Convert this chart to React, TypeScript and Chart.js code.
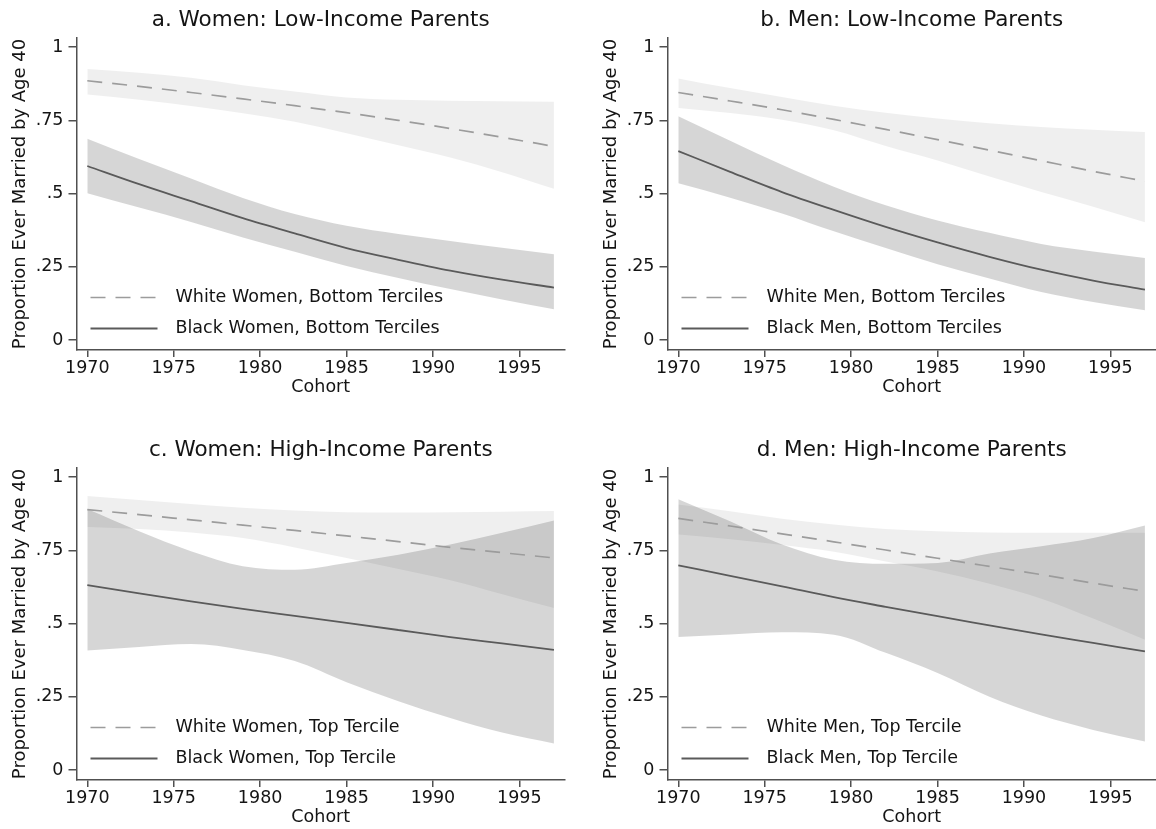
import React, { useEffect, useRef } from "react";
import { Chart, registerables } from "chart.js";

Chart.register(...registerables);

// Birth cohorts at which the fitted curves and their confidence bands are evaluated
const cohorts = [1970, 1973, 1976, 1979, 1982, 1985, 1988, 1991, 1994, 1997];

const xTicks = [1970, 1975, 1980, 1985, 1990, 1995];
const yTicks = [0, 0.25, 0.5, 0.75, 1];
const yTickLabels = ["0", ".25", ".5", ".75", "1"];

// a. Women, low-income parents
const womenLowWhite = [0.885, 0.866, 0.845, 0.823, 0.8, 0.776, 0.75, 0.722, 0.692, 0.661];
const womenLowWhiteHi = [0.925, 0.912, 0.895, 0.87, 0.848, 0.828, 0.82, 0.817, 0.815, 0.813];
const womenLowWhiteLo = [0.838, 0.82, 0.799, 0.774, 0.745, 0.706, 0.665, 0.623, 0.573, 0.516];
const womenLowBlack = [0.594, 0.532, 0.474, 0.416, 0.364, 0.314, 0.274, 0.237, 0.206, 0.179];
const womenLowBlackHi = [0.687, 0.618, 0.551, 0.485, 0.43, 0.39, 0.362, 0.338, 0.315, 0.293];
const womenLowBlackLo = [0.501, 0.452, 0.403, 0.35, 0.301, 0.253, 0.212, 0.174, 0.138, 0.105];

// b. Men, low-income parents
const menLowWhite = [0.845, 0.816, 0.786, 0.753, 0.719, 0.684, 0.648, 0.612, 0.576, 0.542];
const menLowWhiteHi = [0.893, 0.86, 0.83, 0.8, 0.776, 0.756, 0.74, 0.727, 0.718, 0.71];
const menLowWhiteLo = [0.792, 0.775, 0.752, 0.716, 0.662, 0.613, 0.558, 0.505, 0.455, 0.402];
const menLowBlack = [0.645, 0.574, 0.505, 0.444, 0.386, 0.333, 0.284, 0.24, 0.203, 0.172];
const menLowBlackHi = [0.764, 0.68, 0.598, 0.523, 0.46, 0.408, 0.366, 0.328, 0.302, 0.28];
const menLowBlackLo = [0.535, 0.486, 0.432, 0.371, 0.314, 0.259, 0.21, 0.164, 0.13, 0.102];

// c. Women, high-income parents
const womenHighWhite = [0.889, 0.872, 0.854, 0.836, 0.818, 0.799, 0.78, 0.76, 0.742, 0.724];
const womenHighWhiteHi = [0.935, 0.922, 0.908, 0.895, 0.886, 0.88, 0.879, 0.88, 0.882, 0.884];
const womenHighWhiteLo = [0.83, 0.823, 0.811, 0.792, 0.76, 0.724, 0.686, 0.648, 0.6, 0.553];
const womenHighBlack = [0.631, 0.603, 0.576, 0.55, 0.526, 0.502, 0.478, 0.454, 0.432, 0.41];
const womenHighBlackHi = [0.891, 0.815, 0.747, 0.696, 0.684, 0.707, 0.735, 0.77, 0.81, 0.852];
const womenHighBlackLo = [0.408, 0.42, 0.43, 0.41, 0.372, 0.3, 0.235, 0.178, 0.128, 0.091];

// d. Men, high-income parents
const menHighWhite = [0.859, 0.833, 0.806, 0.779, 0.751, 0.723, 0.695, 0.667, 0.638, 0.61];
const menHighWhiteHi = [0.906, 0.883, 0.858, 0.838, 0.823, 0.815, 0.811, 0.81, 0.81, 0.81];
const menHighWhiteLo = [0.804, 0.788, 0.768, 0.745, 0.712, 0.678, 0.636, 0.585, 0.517, 0.445];
const menHighBlack = [0.699, 0.663, 0.627, 0.59, 0.557, 0.525, 0.494, 0.463, 0.434, 0.405];
const menHighBlackHi = [0.924, 0.849, 0.77, 0.718, 0.704, 0.707, 0.739, 0.764, 0.792, 0.835];
const menHighBlackLo = [0.454, 0.463, 0.47, 0.462, 0.4, 0.331, 0.25, 0.186, 0.137, 0.097];

const panelTitles = [
  "a. Women: Low-Income Parents",
  "b. Men: Low-Income Parents",
  "c. Women: High-Income Parents",
  "d. Men: High-Income Parents",
];
const whiteLabels = [
  "White Women, Bottom Terciles",
  "White Men, Bottom Terciles",
  "White Women, Top Tercile",
  "White Men, Top Tercile",
];
const blackLabels = [
  "Black Women, Bottom Terciles",
  "Black Men, Bottom Terciles",
  "Black Women, Top Tercile",
  "Black Men, Top Tercile",
];

type PanelData = {
  title: string;
  whiteLabel: string;
  blackLabel: string;
  white: number[];
  whiteHi: number[];
  whiteLo: number[];
  black: number[];
  blackHi: number[];
  blackLo: number[];
};

const panels: PanelData[] = [
  [womenLowWhite, womenLowWhiteHi, womenLowWhiteLo, womenLowBlack, womenLowBlackHi, womenLowBlackLo],
  [menLowWhite, menLowWhiteHi, menLowWhiteLo, menLowBlack, menLowBlackHi, menLowBlackLo],
  [womenHighWhite, womenHighWhiteHi, womenHighWhiteLo, womenHighBlack, womenHighBlackHi, womenHighBlackLo],
  [menHighWhite, menHighWhiteHi, menHighWhiteLo, menHighBlack, menHighBlackHi, menHighBlackLo],
].map((s, i) => ({
  title: panelTitles[i],
  whiteLabel: whiteLabels[i],
  blackLabel: blackLabels[i],
  white: s[0],
  whiteHi: s[1],
  whiteLo: s[2],
  black: s[3],
  blackHi: s[4],
  blackLo: s[5],
}));

const FONT = "'DejaVu Sans', 'Noto Sans', sans-serif";
const TEXT = "#141414";
const AXIS = "#505050";
const WHITE_BAND = "rgba(0,0,0,0.062)";
const BLACK_BAND = "rgba(0,0,0,0.16)";
const WHITE_LINE = "#9c9c9c";
const BLACK_LINE = "#5a5a5a";
const PANEL_W = 591;
const PANEL_H = 430;

// Legend drawn inside the plot area, lower left, without a frame
const insideLegend = {
  id: "insideLegend",
  afterDatasetsDraw(chart: any) {
    const { ctx, chartArea } = chart;
    const rows = chart.data.datasets.filter((d: any) => d.inLegend);
    ctx.save();
    ctx.font = `17.5px ${FONT}`;
    ctx.textBaseline = "middle";
    ctx.textAlign = "left";
    rows.forEach((d: any, i: number) => {
      const y = chartArea.top + 259.5 + i * 31;
      ctx.beginPath();
      ctx.strokeStyle = d.borderColor;
      ctx.lineWidth = d.borderWidth;
      ctx.setLineDash(d.borderDash || []);
      ctx.moveTo(chartArea.left + 14, y);
      ctx.lineTo(chartArea.left + 81, y);
      ctx.stroke();
      ctx.setLineDash([]);
      ctx.fillStyle = TEXT;
      ctx.fillText(d.label, chartArea.left + 99, y);
    });
    ctx.restore();
  },
};

function Panel({ p }: { p: PanelData }) {
  const ref = useRef<HTMLCanvasElement>(null);

  useEffect(() => {
    if (!ref.current) return;
    const pts = (vals: number[]) => cohorts.map((x, i) => ({ x, y: vals[i] }));
    const edge = (label: string, vals: number[], fill: any, color: string) => ({
      label,
      data: pts(vals),
      borderColor: "rgba(0,0,0,0)",
      borderWidth: 0,
      pointRadius: 0,
      backgroundColor: color,
      fill,
      cubicInterpolationMode: "monotone",
    });

    const chart = new Chart(ref.current, {
      type: "line",
      data: {
        datasets: [
          edge("white upper", p.whiteHi, "+1", WHITE_BAND),
          edge("white lower", p.whiteLo, false, "rgba(0,0,0,0)"),
          edge("black upper", p.blackHi, "+1", BLACK_BAND),
          edge("black lower", p.blackLo, false, "rgba(0,0,0,0)"),
          {
            label: p.whiteLabel,
            data: pts(p.white),
            borderColor: WHITE_LINE,
            borderWidth: 1.7,
            borderDash: [15, 10],
            pointRadius: 0,
            fill: false,
            cubicInterpolationMode: "monotone",
            inLegend: true,
          } as any,
          {
            label: p.blackLabel,
            data: pts(p.black),
            borderColor: BLACK_LINE,
            borderWidth: 1.8,
            pointRadius: 0,
            fill: false,
            cubicInterpolationMode: "monotone",
            inLegend: true,
          } as any,
        ],
      },
      options: {
        animation: false,
        responsive: false,
        devicePixelRatio: 1,
        layout: { padding: { left: 0, right: 26, top: 0, bottom: 0 } },
        events: [],
        plugins: {
          legend: { display: false },
          tooltip: { enabled: false },
          filler: { drawTime: "beforeDatasetsDraw" },
          title: {
            display: true,
            text: p.title,
            fullSize: false,
            color: TEXT,
            font: { family: FONT, size: 21.5, weight: "normal" },
            padding: { top: 7.1, bottom: 5.1 },
          },
        },
        scales: {
          x: {
            type: "linear",
            min: 1969.375,
            max: 1997.64,
            afterBuildTicks: (s: any) => {
              s.ticks = xTicks.map((v) => ({ value: v }));
            },
            afterFit: (s: any) => {
              s.height = 80;
            },
            ticks: {
              autoSkip: false,
              maxRotation: 0,
              padding: 1,
              color: TEXT,
              font: { family: FONT, size: 17.5 },
              callback: (v: any) => String(v),
            },
            grid: {
              display: true,
              drawOnChartArea: false,
              drawTicks: true,
              tickLength: 7,
              color: AXIS,
              lineWidth: 1.5,
            },
            border: { display: true, color: AXIS, width: 1.5 },
            title: {
              display: true,
              text: "Cohort",
              color: TEXT,
              font: { family: FONT, size: 17.5 },
              padding: { top: 0, bottom: 32.5 },
            },
          },
          y: {
            type: "linear",
            min: -0.034,
            max: 1.031,
            afterBuildTicks: (s: any) => {
              s.ticks = yTicks.map((v) => ({ value: v }));
            },
            afterFit: (s: any) => {
              s.width = 76.5;
            },
            ticks: {
              autoSkip: false,
              padding: 5,
              color: TEXT,
              font: { family: FONT, size: 17.5 },
              callback: (v: any) => yTickLabels[yTicks.indexOf(v)] ?? "",
            },
            grid: {
              display: true,
              drawOnChartArea: false,
              drawTicks: true,
              tickLength: 8,
              color: AXIS,
              lineWidth: 1.5,
            },
            border: { display: true, color: AXIS, width: 1.5 },
            title: {
              display: true,
              text: "Proportion Ever Married by Age 40",
              color: TEXT,
              font: { family: FONT, size: 18 },
              padding: { top: 9.2, bottom: 0 },
            },
          },
        },
      } as any,
      plugins: [insideLegend],
    });

    return () => chart.destroy();
  }, [p]);

  return (
    <canvas
      ref={ref}
      width={PANEL_W}
      height={PANEL_H}
      style={{ display: "block", width: PANEL_W, height: PANEL_H }}
    />
  );
}

export default function App() {
  const positions = [
    [0, 0],
    [PANEL_W, 0],
    [0, PANEL_H],
    [PANEL_W, PANEL_H],
  ];
  return (
    <div
      style={{
        position: "absolute",
        left: 0,
        top: 0,
        width: 1156,
        height: 829,
        overflow: "hidden",
        background: "#ffffff",
      }}
    >
      {panels.map((p, i) => (
        <div
          key={p.title}
          style={{ position: "absolute", left: positions[i][0], top: positions[i][1], width: PANEL_W, height: PANEL_H }}
        >
          <Panel p={p} />
        </div>
      ))}
    </div>
  );
}
